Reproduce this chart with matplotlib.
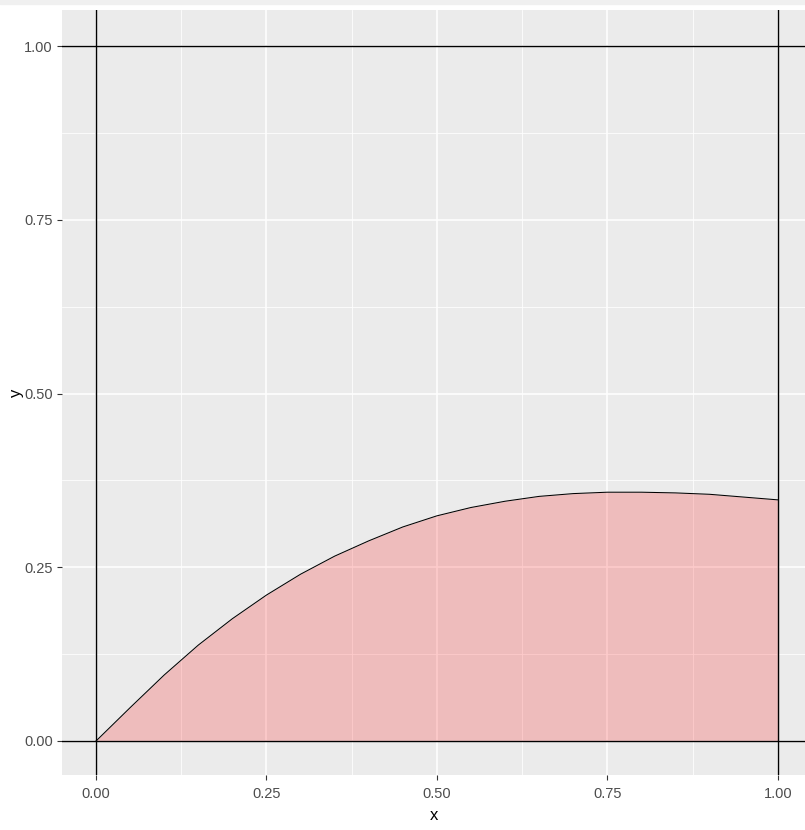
import matplotlib.pyplot as plt
from matplotlib.ticker import MultipleLocator

# curve values
x = [0.00, 0.05, 0.10, 0.15, 0.20, 0.25, 0.30, 0.35, 0.40, 0.45, 0.50,
     0.55, 0.60, 0.65, 0.70, 0.75, 0.80, 0.85, 0.90, 0.95, 1.00]
y = [0.000, 0.048, 0.095, 0.138, 0.176, 0.210, 0.240, 0.266, 0.288, 0.308, 0.324,
     0.336, 0.345, 0.352, 0.356, 0.358, 0.358, 0.357, 0.355, 0.351, 0.347]
vlines = [0, 1]
hlines = [0, 1]
ticks = [0.00, 0.25, 0.50, 0.75, 1.00]

plt.rcParams['font.family'] = ['Liberation Sans', 'DejaVu Sans']

fig = plt.figure(figsize=(8.05, 8.30), dpi=100)
ax = fig.add_axes([62 / 805, 55 / 830, 743 / 805, 765 / 830])
ax.set_facecolor('#EBEBEB')

# ggplot-like grid
ax.set_xticks(ticks)
ax.set_yticks(ticks)
ax.xaxis.set_minor_locator(MultipleLocator(0.125))
ax.yaxis.set_minor_locator(MultipleLocator(0.125))
ax.grid(which='major', color='white', lw=1.1)
ax.grid(which='minor', color='white', lw=0.55)
ax.set_axisbelow(True)

ax.fill_between(x, y, 0, color='red', alpha=0.2, lw=0)
ax.plot(x, y, color='black', lw=0.75)
ax.plot([x[-1], x[-1]], [0, y[-1]], color='black', lw=0.75)

for v in vlines:
    ax.axvline(v, color='black', lw=1.0)
for h in hlines:
    ax.axhline(h, color='black', lw=1.0)

ax.set_xlim(-0.05, 1.04)
ax.set_ylim(-0.049, 1.052)
ax.set_xticklabels(['%.2f' % t for t in ticks])
ax.set_yticklabels(['%.2f' % t for t in ticks])
ax.tick_params(which='major', length=3.5, width=0.8, color='#333333',
               labelcolor='#4D4D4D', labelsize=10.5, pad=3)
ax.tick_params(axis='x', pad=5)
ax.tick_params(which='minor', length=0)
for s in ax.spines.values():
    s.set_visible(False)

ax.set_xlabel('x', fontsize=12, labelpad=5)
ax.set_ylabel('y', fontsize=12, labelpad=0)

fig.patches.append(plt.Rectangle((0, 826 / 830), 1, 4 / 830, transform=fig.transFigure,
                                 color='#F0F0F0', zorder=0))

fig.savefig('out.png', dpi=100)
